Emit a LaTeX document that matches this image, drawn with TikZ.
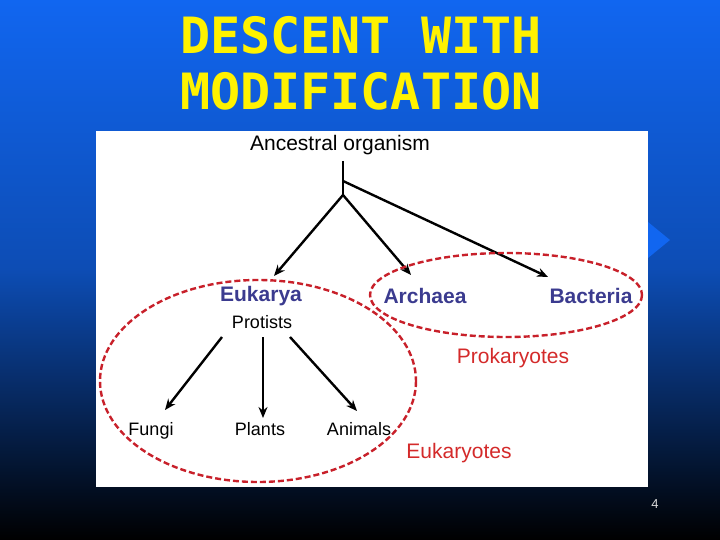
\documentclass[tikz,border=0pt]{standalone}
\usepackage{fontspec}
\setmainfont{Liberation Sans}
\newfontfamily\titlefont{DejaVu Sans Mono}
\usetikzlibrary{arrows.meta}
\definecolor{topblue}{HTML}{1166F0}
\definecolor{dom}{HTML}{3B3B8F}
\definecolor{grp}{HTML}{D42A2A}
\definecolor{ringcol}{HTML}{C8202A}
\begin{document}
\begin{tikzpicture}[x=1pt,y=-1pt,
  arr/.style={-{Stealth[length=11pt,width=9pt]},line width=2.4pt},
  dombox/.style={font=\fontsize{21}{21}\selectfont\bfseries,text=dom,inner sep=0},
  lbl/.style={font=\fontsize{18}{18}\selectfont,inner sep=0},
  grplbl/.style={font=\fontsize{21}{21}\selectfont,text=grp,inner sep=0},
  ringline/.style={draw=ringcol,line width=2.4pt,dash pattern=on 6pt off 3pt}]
\useasboundingbox (0,0) rectangle (720,540);
\shade[top color=topblue,bottom color=black,middle color=topblue!75!black] (0,0) rectangle (720,540);
\fill[topblue] (648,222) -- (670,240) -- (648,258) -- cycle;
\node[font=\titlefont\bfseries\fontsize{50}{56}\selectfont,text=yellow,align=left,anchor=north west,inner sep=0] (title) at (180,16) {DESCENT WITH\\MODIFICATION};
\fill[white] (96,131) rectangle (648,487);
\node[font=\fontsize{21}{21}\selectfont,inner sep=0] (anc) at (340,145) {Ancestral organism};
\coordinate (b1) at (343,181);
\coordinate (b2) at (343,195);
\node[dombox] (euk) at (261,296) {Eukarya};
\node[dombox] (arc) at (425,296) {Archaea};
\node[dombox] (bac) at (591,296) {Bacteria};
\node[lbl] (pro) at (262,322) {Protists};
\node[lbl] (fun) at (151,431) {Fungi};
\node[lbl] (pla) at (260,429) {Plants};
\node[lbl] (ani) at (359,429) {Animals};
\node[grplbl] (prok) at (513,358) {Prokaryotes};
\node[grplbl] (eukg) at (459,453) {Eukaryotes};
\draw[line width=2.4pt] (343,161) -- (b2);
\draw[arr] (b1) -- (548,277);
\draw[arr] (b2) -- (274,276);
\draw[arr] (b2) -- (411,275);
\draw[arr] (222,337) -- (165,410);
\draw[arr] (263,337) -- (263,418);
\draw[arr] (290,337) -- (357,411);
\draw[ringline] (258,381) ellipse [x radius=158, y radius=101];
\draw[ringline] (506,295) ellipse [x radius=136, y radius=42];
\node[font=\fontsize{13}{13}\selectfont,text=white!85!black,inner sep=0] (pg) at (655,504) {4};
\end{tikzpicture}
\end{document}
